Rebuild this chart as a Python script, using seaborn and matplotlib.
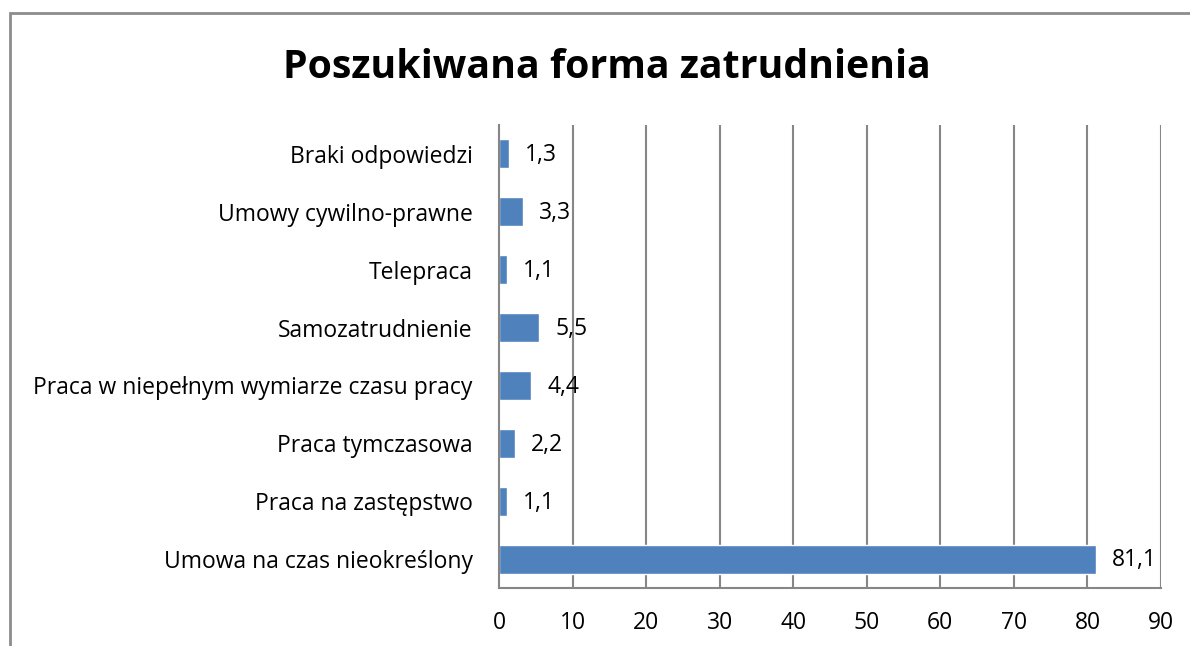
import matplotlib
matplotlib.use("Agg")
import matplotlib.pyplot as plt
import seaborn as sns
import pandas as pd
from matplotlib.patches import Rectangle

categories = [
    "Braki odpowiedzi",
    "Umowy cywilno-prawne",
    "Telepraca",
    "Samozatrudnienie",
    "Praca w niepełnym wymiarze czasu pracy",
    "Praca tymczasowa",
    "Praca na zastępstwo",
    "Umowa na czas nieokreślony",
]
values = [1.3, 3.3, 1.1, 5.5, 4.4, 2.2, 1.1, 81.1]
xticks = [0, 10, 20, 30, 40, 50, 60, 70, 80, 90]
title = "Poszukiwana forma zatrudnienia"

df = pd.DataFrame({"cat": categories, "val": values})

sns.set_theme(style="white")
plt.rcParams["font.family"] = ["Open Sans", "DejaVu Sans"]

W, H = 1190, 646
fig = plt.figure(figsize=(W / 100, H / 100), dpi=100)
ax = fig.add_axes([499 / W, 1 - 588 / H, (1161 - 499) / W, (588 - 125) / H])

grid_c = "#868686"
fs = 16.5
sns.barplot(data=df, y="cat", x="val", orient="h", color="#4F81BD",
            saturation=1, width=0.5, ax=ax, order=categories)

ax.set_xlim(0, 90)
ax.set_ylim(len(categories) - 0.5, -0.5)
ax.set_xticks(xticks)
ax.set_xticklabels([str(t) for t in xticks], fontsize=fs, color="black")
ax.set_xlabel("")
ax.set_ylabel("")
ax.tick_params(axis="y", which="major", length=0, labelsize=fs, pad=19, labelcolor="black")
ax.set_yticks([i - 0.5 for i in range(len(categories) + 1)], minor=True)
ax.tick_params(axis="y", which="minor", length=6.5, width=1.5, color=grid_c, direction="out")
ax.tick_params(axis="x", which="major", length=6.5, width=1.5, color=grid_c, direction="out", pad=10)

for t in xticks[1:]:
    ax.axvline(t, color=grid_c, lw=1.5, zorder=0)

for s in ["top", "right"]:
    ax.spines[s].set_visible(False)
for s in ["left", "bottom"]:
    ax.spines[s].set_color(grid_c)
    ax.spines[s].set_linewidth(1.5)

for i, v in enumerate(values):
    ax.annotate(f"{v:.1f}".replace(".", ","), xy=(v, i), xytext=(11.5, -1),
                textcoords="offset points", va="center", ha="left",
                fontsize=fs, color="black")

fig.text(607 / W, 1 - 68 / H, title, ha="center", va="center",
         fontsize=28.3, fontweight="bold", color="black")

fig.patches.append(Rectangle((10 / W, -0.1), 1.2, 1.1 - 13 / H,
                             transform=fig.transFigure, fill=False,
                             edgecolor="#8c8c8c", lw=2, zorder=10))

fig.savefig("out.png", dpi=100)
